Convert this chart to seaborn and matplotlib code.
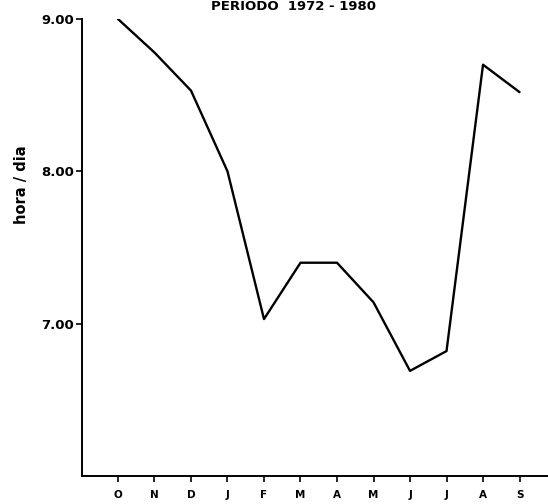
import pandas as pd
import matplotlib
matplotlib.use("Agg")
import matplotlib.pyplot as plt
import seaborn as sns

sns.set_style("ticks")
plt.rcParams['font.family'] = ['DejaVu Sans']
plt.rcParams['text.color'] = 'black'
plt.rcParams['xtick.color'] = 'black'
plt.rcParams['ytick.color'] = 'black'

meses = ["O", "N", "D", "J", "F", "M", "A", "M", "J", "J", "A", "S"]
horas = [9.00, 8.78, 8.53, 8.00, 7.03, 7.40, 7.40, 7.14, 6.69, 6.82, 8.70, 8.52]
y_ticks = [7.0, 8.0, 9.0]
y_labels = ["7.00", "8.00", "9.00"]

df = pd.DataFrame({"pos": range(len(meses)), "mes": meses, "horas": horas})

fig = plt.figure(figsize=(5.48, 5.04), dpi=100)
ax = fig.add_axes([0.1496, 0.0556, 0.8504, 0.9067])

sns.lineplot(data=df, x="pos", y="horas", color="black", linewidth=1.7, ax=ax)

ax.set_xlim(-0.986, 11.78)
ax.set_ylim(6.0, 9.0)
ax.set_xticks(df["pos"])
ax.set_xticklabels(meses, fontsize=7.5, fontweight="bold")
ax.set_yticks(y_ticks)
ax.set_yticklabels(y_labels, fontsize=9.5, fontweight="bold")
ax.tick_params(axis="both", length=4, width=1.2, direction="out")
ax.tick_params(axis="x", pad=6)
ax.tick_params(axis="y", pad=2)
ax.set_xlabel("")
ax.set_ylabel("")

for side in ["top", "right"]:
    ax.spines[side].set_visible(False)
for side in ["left", "bottom"]:
    ax.spines[side].set_linewidth(1.4)
    ax.spines[side].set_color("black")

fig.text(0.04, 0.633, "hora / dia", rotation=90, fontsize=10.5, fontweight="bold",
         ha="center", va="center")
fig.text(0.535, 1.0, "PERIODO  1972 - 1980", fontsize=9.5, fontweight="bold",
         ha="center", va="top")

fig.savefig("out.png", dpi=100)
